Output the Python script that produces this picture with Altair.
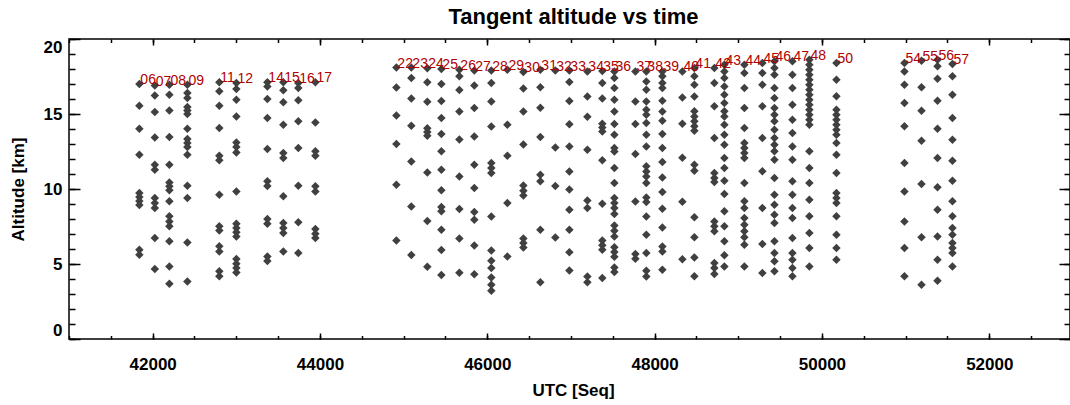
import altair as alt
import pandas as pd

# ---------------- data ----------------
scan_ids = ["06", "07", "08", "09", "11", "12", "14", "15", "16", "17",
            "22", "23", "24", "25", "26", "27", "28", "29", "30", "31",
            "32", "33", "34", "35", "36", "37", "38", "39", "40", "41",
            "42", "43", "44", "45", "46", "47", "48", "50", "54", "55",
            "56", "57"]
scan_x = [41841, 42026, 42200, 42415, 42797, 43001, 43371, 43562, 43741, 43945,
          44913, 45092, 45283, 45451, 45666, 45845, 46048, 46240, 46431, 46634,
          46813, 46981, 47196, 47375, 47519, 47770, 47901, 48093, 48332, 48475,
          48714, 48834, 49073, 49288, 49432, 49647, 49850, 50173, 50986, 51190,
          51381, 51560]

s06 = [17.0, 15.55, 14.02, 12.29, 9.73, 9.46, 9.2, 8.93, 5.95, 5.62]
s07 = [16.9, 16.24, 15.13, 13.44, 11.62, 11.29, 9.4, 9.07, 8.73, 6.73, 4.66]
s08 = [16.95, 16.29, 15.24, 13.46, 11.62, 10.44, 10.18, 9.91, 9.18, 8.18, 7.84, 7.51, 6.51, 4.84, 3.69]
s09 = [16.95, 16.4, 16.07, 15.46, 15.24, 15.0, 14.02, 13.33, 13.07, 12.8, 12.29, 10.22, 9.4, 6.44, 3.84]
s11 = [17.11, 16.51, 15.55, 14.07, 12.22, 11.91, 9.62, 7.51, 7.24, 6.18, 5.84, 4.51, 4.18]
s12 = [17.07, 16.66, 15.95, 14.84, 13.1, 12.8, 12.44, 9.84, 7.69, 7.4, 7.11, 6.84, 5.33, 5.02, 4.73, 4.44]
s14 = [17.11, 16.84, 16.0, 14.73, 12.66, 10.51, 10.2, 8.0, 7.69, 5.5, 5.2]
s15 = [17.11, 16.58, 15.78, 14.29, 12.4, 12.07, 9.51, 7.73, 7.4, 7.07, 5.84]
s16 = [17.07, 16.73, 15.91, 14.51, 12.73, 10.22, 7.78, 5.73]
s17 = [17.11, 14.44, 12.51, 12.22, 10.18, 9.84, 7.33, 7.02, 6.73]
s22 = [18.1, 16.76, 14.9, 13.0, 10.28, 6.57]
s23 = [18.1, 17.4, 16.03, 14.21, 11.84, 8.84, 5.6]
s24 = [18.05, 17.12, 15.82, 14.05, 13.8, 13.55, 11.1, 7.86, 4.82]
s25 = [18.0, 17.0, 15.86, 14.73, 13.66, 12.52, 11.28, 9.92, 8.8, 8.51, 7.28, 5.93, 4.26]
s26 = [17.95, 17.51, 16.6, 15.17, 13.3, 10.84, 8.67, 6.7, 4.42]
s27 = [17.9, 16.9, 15.4, 13.5, 11.62, 10.06, 8.46, 7.95, 6.23, 4.31]
s28 = [17.9, 17.06, 15.84, 14.17, 11.73, 11.4, 11.06, 8.17, 5.9, 5.22, 4.73, 4.1, 3.62, 3.22]
s29 = [17.95, 14.29, 12.22, 9.06, 5.5]
s30 = [17.8, 16.7, 15.17, 12.97, 10.24, 9.88, 9.57, 6.7, 6.4, 6.1]
s31 = [17.95, 16.78, 15.42, 13.47, 10.95, 10.51, 7.28, 3.78]
s32 = [17.9, 12.76, 10.2, 6.76]
s33 = [17.9, 17.14, 15.86, 14.31, 12.84, 11.17, 9.97, 8.62, 7.28, 5.79, 4.56]
s34 = [17.84, 16.17, 14.82, 12.62, 9.23, 8.73, 4.16, 3.79]
s35 = [17.86, 17.06, 16.03, 14.35, 14.1, 13.84, 11.91, 9.02, 6.57, 6.25, 5.95, 4.06]
s36 = [17.84, 17.4, 16.73, 15.95, 15.17, 14.33, 13.62, 12.73, 12.5, 11.4, 10.4, 9.4,
       9.06, 8.73, 8.33, 7.57, 7.22, 6.84, 6.11, 5.8, 5.48, 4.77, 4.46]
s37 = [17.84, 15.84, 14.33, 12.33, 9.17, 5.66, 5.35]
s38 = [17.84, 17.17, 16.62, 15.84, 15.28, 14.95, 14.4, 13.62, 12.84, 11.51, 11.17, 10.84,
       10.4, 9.44, 9.13, 8.17, 6.95, 5.73, 4.55, 4.17]
s39 = [17.84, 17.51, 17.06, 16.73, 15.88, 15.17, 14.55, 13.66, 12.73, 11.8, 10.77, 9.8,
       8.68, 7.44, 6.17, 5.84, 4.62]
s40 = [17.84, 16.1, 14.35, 12.08, 9.15, 5.32]
s41 = [18.06, 17.51, 16.95, 16.17, 15.18, 14.84, 14.51, 14.18, 13.89, 11.62, 11.22, 8.11,
       6.78, 5.44, 4.18]
s42 = [18.06, 17.06, 15.51, 13.4, 11.06, 10.73, 10.46, 7.84, 7.51, 7.18, 5.06, 4.73, 4.33]
s43 = [18.29, 17.84, 17.4, 16.84, 16.29, 15.73, 15.18, 14.84, 14.29, 13.62, 12.95, 12.07,
       11.4, 10.55, 9.66, 8.51, 7.51, 6.51, 5.58, 4.84]
s44 = [18.29, 17.73, 16.73, 15.4, 14.07, 13.06, 12.73, 12.4, 12.07, 10.4, 9.18, 8.73,
       8.07, 7.62, 7.18, 6.78, 6.29, 4.84]
s45 = [18.4, 17.73, 16.95, 15.51, 13.4, 11.18, 8.73, 6.33, 4.4]
s46 = [18.51, 18.06, 17.62, 16.73, 16.07, 15.4, 14.95, 14.51, 13.95, 13.4, 12.95, 12.51,
       11.95, 10.73, 9.62, 8.95, 8.29, 7.73, 6.51, 5.73, 5.18, 4.51]
s47 = [18.51, 17.62, 16.73, 15.62, 14.62, 13.73, 12.84, 11.95, 10.51, 9.62, 8.73, 8.07,
       6.73, 5.73, 5.29, 4.73, 4.18]
s48 = [18.62, 18.29, 17.95, 17.62, 17.29, 16.95, 16.62, 16.29, 15.95, 15.62, 15.29, 14.95,
       14.62, 14.29, 12.51, 11.4, 10.4, 9.29, 8.18, 7.07, 6.07, 4.84]
s50 = [18.4, 17.29, 16.18, 15.29, 14.95, 14.62, 14.29, 13.95, 13.62, 13.07, 12.29, 11.07,
       9.73, 9.4, 9.07, 8.18, 6.95, 6.07, 5.29]
s54 = [18.4, 17.84, 16.95, 15.73, 14.18, 11.73, 9.84, 7.84, 6.07, 4.18]
s55 = [18.55, 16.78, 15.22, 13.22, 10.33, 6.78, 3.62]
s56 = [18.62, 18.18, 17.35, 15.89, 14.02, 12.07, 10.11, 8.62, 6.84, 5.29, 3.89]
s57 = [18.33, 17.51, 16.29, 14.73, 13.29, 11.89, 10.55, 9.18, 8.18, 7.4, 6.95, 6.4,
       6.07, 5.73, 4.84]

scan_alts = [s06, s07, s08, s09, s11, s12, s14, s15, s16, s17,
             s22, s23, s24, s25, s26, s27, s28, s29, s30, s31,
             s32, s33, s34, s35, s36, s37, s38, s39, s40, s41,
             s42, s43, s44, s45, s46, s47, s48, s50, s54, s55,
             s56, s57]

x_major = [42000, 44000, 46000, 48000, 50000, 52000]
x_minor = [41000, 41500, 42000, 42500, 43000, 43500, 44000, 44500, 45000, 45500,
           46000, 46500, 47000, 47500, 48000, 48500, 49000, 49500, 50000, 50500,
           51000, 51500, 52000, 52500]
y_major = [0, 5, 10, 15, 20]
y_minor = list(range(0, 21))

rows = []
for sid, sx, alts in zip(scan_ids, scan_x, scan_alts):
    for a in alts:
        rows.append({"scan": sid, "utc": sx, "alt": a})
points = pd.DataFrame(rows)
labels = pd.DataFrame({"scan": scan_ids, "utc": scan_x,
                       "alt": [max(a) for a in scan_alts]})

# ---------------- chart ----------------
FONT = "Liberation Sans"
x_scale = alt.Scale(domain=[41000, 52965], nice=False, zero=False)
y_scale = alt.Scale(domain=[0, 20], nice=False, zero=False)

base_ax = dict(domain=False, grid=False, tickColor="black", tickWidth=1.5,
               labelFont=FONT, labelFontSize=17, labelFontWeight="bold",
               labelColor="black", titleFont=FONT, titleFontSize=17,
               titleFontWeight="bold", titleColor="black")

ax_bottom = alt.Axis(orient="bottom", values=x_major, tickSize=6, offset=-6,
                     labelPadding=17, format="d", title="UTC [Seq]",
                     titlePadding=10, titleX=504, **base_ax)
ax_left = alt.Axis(orient="left", values=y_major, tickSize=11, offset=-11,
                   labelPadding=7, labelFlush=True, format="d",
                   title="Altitude [km]", titlePadding=16, **base_ax)
ax_top = alt.Axis(orient="top", values=x_major, tickSize=6, offset=-6,
                  labels=False, title=None, **base_ax)
ax_right = alt.Axis(orient="right", values=y_major, tickSize=11, offset=-11,
                    labels=False, title=None, **base_ax)
ax_bottom_m = alt.Axis(orient="bottom", values=x_minor, tickSize=3.5, offset=-3.5,
                       labels=False, title=None, **base_ax)
ax_left_m = alt.Axis(orient="left", values=y_minor, tickSize=6, offset=-6,
                     labels=False, title=None, **base_ax)
ax_top_m = alt.Axis(orient="top", values=x_minor, tickSize=3.5, offset=-3.5,
                    labels=False, title=None, **base_ax)
ax_right_m = alt.Axis(orient="right", values=y_minor, tickSize=6, offset=-6,
                      labels=False, title=None, **base_ax)

minor1 = alt.Chart(labels).mark_point(opacity=0).encode(
    x=alt.X("utc:Q", scale=x_scale, axis=ax_bottom_m),
    y=alt.Y("alt:Q", scale=y_scale, axis=ax_left_m),
)
minor2 = alt.Chart(labels).mark_point(opacity=0).encode(
    x=alt.X("utc:Q", scale=x_scale, axis=ax_top_m),
    y=alt.Y("alt:Q", scale=y_scale, axis=ax_right_m),
)
pts = alt.Chart(points).mark_point(
    shape="diamond", filled=True, size=72, color="#404040", opacity=1
).encode(
    x=alt.X("utc:Q", scale=x_scale, axis=ax_bottom),
    y=alt.Y("alt:Q", scale=y_scale, axis=ax_left),
)
txt = alt.Chart(labels).mark_text(
    align="left", baseline="alphabetic", dx=1, dy=0, font=FONT, fontSize=14,
    color="#b00000"
).encode(
    x=alt.X("utc:Q", scale=x_scale, axis=ax_top),
    y=alt.Y("alt:Q", scale=y_scale, axis=ax_right),
    text="scan:N",
)

chart = alt.layer(minor1, minor2, pts, txt).resolve_axis(
    x="independent", y="independent"
).properties(
    width=1001,
    height=300,
    title=alt.TitleParams(text="Tangent altitude vs time", font=FONT, fontSize=22,
                          fontWeight="bold", color="black", anchor="middle",
                          frame="group", dx=4, offset=9),
    autosize=alt.AutoSizeParams(type="none"),
    padding={"left": 69, "top": 39, "right": 0, "bottom": 66},
).configure_view(stroke="black", strokeWidth=1.5)

chart.save("out.html", embed_options={"renderer": "svg", "actions": False})
